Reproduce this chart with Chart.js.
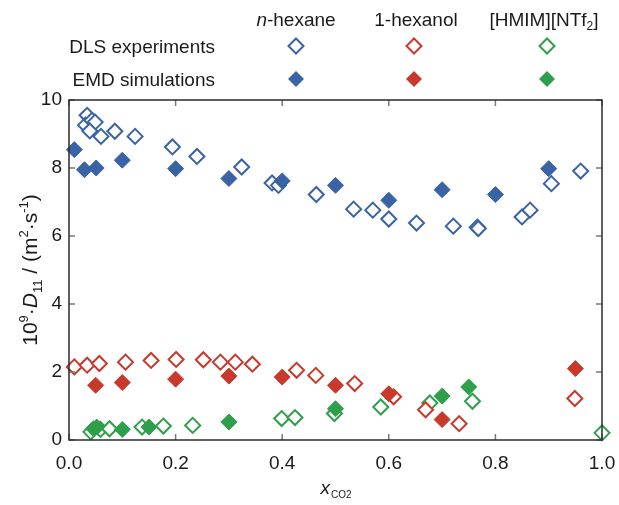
<!DOCTYPE html>
<html>
<head>
<meta charset="utf-8">
<script src="https://cdn.jsdelivr.net/npm/chart.js@4.4.0/dist/chart.umd.min.js"></script>
<style>
  html, body { margin: 0; padding: 0; background: #fff; }
  #wrap { width: 619px; height: 505px; position: relative; }
</style>
</head>
<body>
<div id="wrap"><canvas id="diffChart"></canvas></div>
<script>
// x_CO2 and 10^9 D11 values
var hexDlsX = [0.034, 0.031, 0.043, 0.049, 0.039, 0.06, 0.086, 0.124, 0.194, 0.24, 0.324, 0.381, 0.393, 0.464, 0.534, 0.57, 0.60, 0.652, 0.721, 0.766, 0.768, 0.85, 0.865, 0.905, 0.96];
var hexDlsY = [9.55, 9.26, 9.40, 9.35, 9.09, 8.93, 9.08, 8.93, 8.62, 8.34, 8.03, 7.56, 7.49, 7.22, 6.79, 6.76, 6.50, 6.38, 6.29, 6.26, 6.22, 6.56, 6.76, 7.54, 7.91];
var hexEmdX = [0.01, 0.029, 0.051, 0.1, 0.2, 0.3, 0.4, 0.5, 0.6, 0.7, 0.8, 0.9];
var hexEmdY = [8.54, 7.95, 8.0, 8.23, 7.98, 7.69, 7.62, 7.49, 7.05, 7.36, 7.22, 7.98];

var holDlsX = [0.01, 0.034, 0.057, 0.106, 0.154, 0.201, 0.252, 0.284, 0.312, 0.344, 0.427, 0.463, 0.536, 0.609, 0.669, 0.732, 0.949];
var holDlsY = [2.15, 2.20, 2.25, 2.29, 2.34, 2.37, 2.36, 2.29, 2.29, 2.23, 2.05, 1.90, 1.66, 1.27, 0.89, 0.48, 1.22];
var holEmdX = [0.05, 0.1, 0.2, 0.3, 0.4, 0.5, 0.6, 0.7, 0.95];
var holEmdY = [1.61, 1.69, 1.79, 1.88, 1.85, 1.61, 1.36, 0.60, 2.10];

var ilDlsX = [0.041, 0.059, 0.076, 0.137, 0.177, 0.232, 0.399, 0.424, 0.498, 0.585, 0.677, 0.757, 1.0];
var ilDlsY = [0.24, 0.31, 0.33, 0.38, 0.41, 0.43, 0.63, 0.66, 0.78, 0.97, 1.09, 1.14, 0.21];
var ilEmdX = [0.046, 0.052, 0.1, 0.15, 0.3, 0.5, 0.7, 0.75];
var ilEmdY = [0.33, 0.38, 0.31, 0.38, 0.53, 0.92, 1.29, 1.56];

var xTicks = [0, 0.2, 0.4, 0.6, 0.8, 1.0];
var yTicks = [0, 2, 4, 6, 8, 10];

var blue = '#3a63a6', red = '#c8392b', green = '#2e9f4a';
var FONT = '"Liberation Sans", Arial, sans-serif';

function pts(xs, ys) {
    return xs.map(function (x, i) { return { x: x, y: ys[i] }; });
}
function openSet(label, xs, ys, col) {
    return { label: label, data: pts(xs, ys), pointStyle: 'rectRot', pointRadius: 7.5,
        pointBorderWidth: 2, borderColor: col, backgroundColor: '#fff', order: 2, clip: false };
}
function fullSet(label, xs, ys, col) {
    return { label: label, data: pts(xs, ys), pointStyle: 'rectRot', pointRadius: 8,
        pointBorderWidth: 1, borderColor: col, backgroundColor: col, order: 1, clip: false };
}

// frame, inward ticks, axis titles and the table-style legend
var decor = {
    id: 'decor',
    afterDraw: function (chart) {
        var c = chart.ctx, a = chart.chartArea;
        var sx = chart.scales.x, sy = chart.scales.y;
        c.save();
        c.strokeStyle = '#7a7a7a';
        c.lineWidth = 1.5;
        c.beginPath();
        xTicks.forEach(function (v) {
            var p = sx.getPixelForValue(v);
            c.moveTo(p, a.bottom); c.lineTo(p, a.bottom - 6);
            c.moveTo(p, a.top); c.lineTo(p, a.top + 6);
        });
        yTicks.forEach(function (v) {
            var p = sy.getPixelForValue(v);
            c.moveTo(a.left, p); c.lineTo(a.left + 6, p);
            c.moveTo(a.right, p); c.lineTo(a.right - 6, p);
        });
        c.stroke();
        c.strokeStyle = '#2b2b2b';
        c.lineWidth = 1.5;
        c.strokeRect(a.left, a.top, a.right - a.left, a.bottom - a.top);

        c.fillStyle = '#1a1a1a';
        c.textBaseline = 'alphabetic';

        // x title
        c.textAlign = 'left';
        c.font = 'italic 19px ' + FONT;
        var xw = c.measureText('x').width;
        c.font = '10px ' + FONT;
        var sw = c.measureText('CO2').width;
        var x0 = (a.left + a.right) / 2 - (xw + sw) / 2;
        c.font = 'italic 19px ' + FONT;
        c.fillText('x', x0, 494);
        c.font = '10px ' + FONT;
        c.fillText('CO2', x0 + xw + 1, 498);

        // y title, rotated
        var parts = [
            ['10', '21px', 0], ['9', '13px', -9], ['\u00b7', '21px', 0], ['D', 'italic 21px', 0],
            ['11', '13px', 5], [' / (m', '21px', 0], ['2', '13px', -9], ['\u00b7s', '21px', 0],
            ['-1', '13px', -9], [')', '21px', 0]
        ];
        var total = 0;
        parts.forEach(function (p) { c.font = p[1] + ' ' + FONT; total += c.measureText(p[0]).width; });
        c.translate(37, 270);
        c.rotate(-Math.PI / 2);
        var cx = -total / 2;
        parts.forEach(function (p) {
            c.font = p[1] + ' ' + FONT;
            c.fillText(p[0], cx, p[2]);
            cx += c.measureText(p[0]).width;
        });
        c.setTransform(1, 0, 0, 1, 0, 0);

        // legend table
        c.font = '19px ' + FONT;
        c.textAlign = 'right';
        c.fillText('DLS experiments', 215, 53);
        c.fillText('EMD simulations', 215, 86);
        var cols = [296, 414, 547];
        var colors = [blue, red, green];
        // headers
        c.textAlign = 'left';
        c.font = 'italic 19px ' + FONT;
        var nw = c.measureText('n').width;
        c.font = '19px ' + FONT;
        var hw = c.measureText('-hexane').width;
        var hx = cols[0] - (nw + hw) / 2;
        c.font = 'italic 19px ' + FONT;
        c.fillText('n', hx, 26);
        c.font = '19px ' + FONT;
        c.fillText('-hexane', hx + nw, 26);
        c.textAlign = 'center';
        c.fillText('1-hexanol', 416, 26);
        c.textAlign = 'left';
        var w1 = c.measureText('[HMIM][NTf').width;
        c.font = '12px ' + FONT;
        var w2 = c.measureText('2').width;
        c.font = '19px ' + FONT;
        var w3 = c.measureText(']').width;
        var ix = 544 - (w1 + w2 + w3) / 2;
        c.fillText('[HMIM][NTf', ix, 26);
        c.font = '12px ' + FONT;
        c.fillText('2', ix + w1, 30);
        c.font = '19px ' + FONT;
        c.fillText(']', ix + w1 + w2, 26);

        function diamond(x, y, r) {
            c.beginPath();
            c.moveTo(x, y - r); c.lineTo(x + r, y); c.lineTo(x, y + r); c.lineTo(x - r, y); c.closePath();
        }
        cols.forEach(function (x, i) {
            diamond(x, 46, 7.5);
            c.fillStyle = '#fff'; c.fill();
            c.strokeStyle = colors[i]; c.lineWidth = 2; c.stroke();
            diamond(x, 79, 8);
            c.fillStyle = colors[i]; c.fill();
        });
        c.restore();
    }
};

var ctx = document.getElementById('diffChart').getContext('2d');
var myChart = new Chart(ctx, {
    type: 'scatter',
    data: {
        datasets: [
            openSet('n-hexane DLS', hexDlsX, hexDlsY, blue),
            openSet('1-hexanol DLS', holDlsX, holDlsY, red),
            openSet('[HMIM][NTf2] DLS', ilDlsX, ilDlsY, green),
            fullSet('n-hexane EMD', hexEmdX, hexEmdY, blue),
            fullSet('1-hexanol EMD', holEmdX, holEmdY, red),
            fullSet('[HMIM][NTf2] EMD', ilEmdX, ilEmdY, green)
        ]
    },
    options: {
        responsive: true,
        maintainAspectRatio: false,
        animation: false,
        layout: { padding: { top: 100, right: 17, left: 0, bottom: 0 } },
        plugins: { legend: { display: false }, tooltip: { enabled: false } },
        scales: {
            x: {
                type: 'linear', min: 0, max: 1,
                grid: { display: false, drawTicks: false },
                border: { display: false },
                afterBuildTicks: function (s) { s.ticks = xTicks.map(function (v) { return { value: v }; }); },
                afterFit: function (s) { s.height = 65; s.paddingRight = 0; s.paddingLeft = 0; },
                ticks: { padding: 12, color: '#1a1a1a', font: { family: FONT, size: 19 },
                    callback: function (v) { return v.toFixed(1); } }
            },
            y: {
                type: 'linear', min: 0, max: 10,
                grid: { display: false, drawTicks: false },
                border: { display: false },
                afterBuildTicks: function (s) { s.ticks = yTicks.map(function (v) { return { value: v }; }); },
                afterFit: function (s) { s.width = 69; s.paddingTop = 0; s.paddingBottom = 0; },
                ticks: { padding: 7, color: '#1a1a1a', font: { family: FONT, size: 19 } }
            }
        }
    },
    plugins: [decor]
});
</script>
</body>
</html>
